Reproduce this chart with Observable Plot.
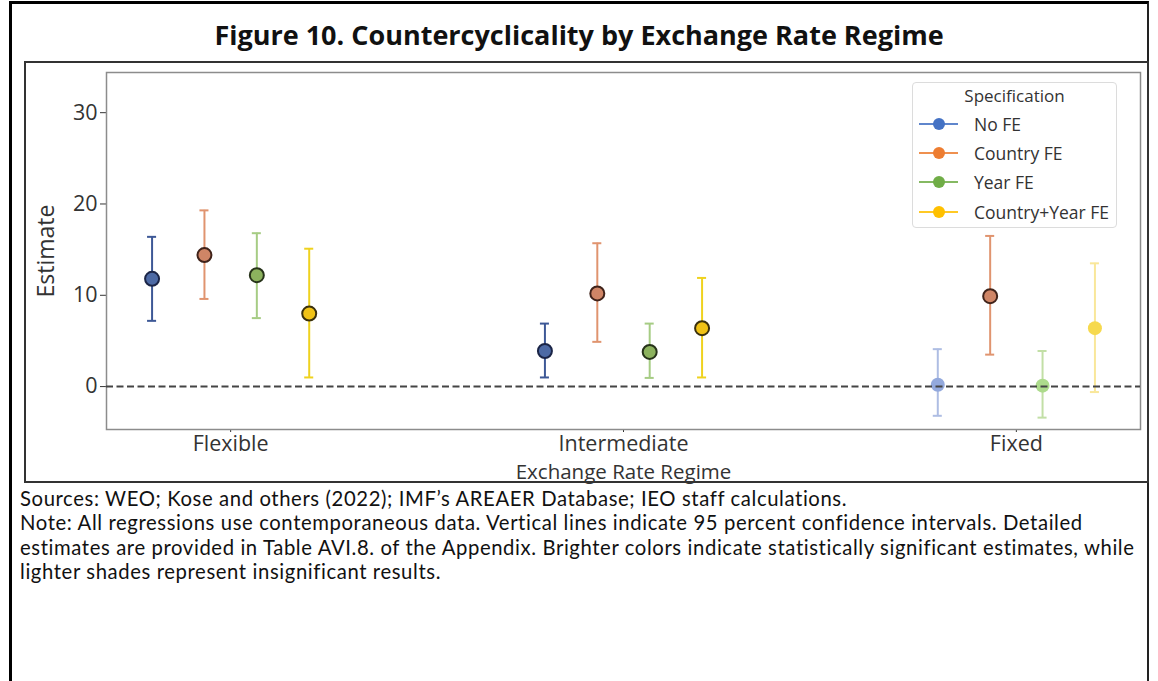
<!DOCTYPE html>
<html>
<head>
<meta charset="utf-8">
<script src="https://cdn.jsdelivr.net/npm/d3@7"></script>
<script src="https://cdn.jsdelivr.net/npm/@observablehq/plot@0.6"></script>
<style>
  body { margin: 0; background: #fff; font-family: "Open Sans", "Noto Sans", sans-serif; }
  #page { position: relative; width: 1158px; height: 681px; overflow: hidden; background: #fff; }
  #outer { position: absolute; left: 9px; top: 1px; width: 1140px; height: 700px;
           border-left: 3px solid #000; border-top: 3px solid #000; border-right: 2px solid #222; box-sizing: border-box; }
  #title { position: absolute; left: 0; width: 1158px; top: 16px; text-align: center;
           font-weight: 700; font-size: 27px; color: #111; line-height: 38px; }
  #box { position: absolute; left: 24px; top: 61px; width: 1125px; height: 422px;
         border: 2px solid #333; box-sizing: border-box; }
  #chart { position: absolute; left: 0; top: 61px; }
  #legend { position: absolute; left: 912px; top: 82px; width: 205px; height: 146px;
            border: 1px solid #dcdcdc; border-radius: 4px; background: rgba(255,255,255,0.85);
            box-sizing: border-box; font-size: 17.5px; color: #333; }
  #legend .ttl { position: absolute; left: 0; width: 100%; top: 0px; text-align: center; line-height: 26px; font-size: 17px; }
  #legend .row { position: absolute; left: 5px; height: 24px; line-height: 24px; }
  #legend .row svg { position: absolute; left: 0; top: 0; }
  #legend .row span { position: absolute; left: 56px; white-space: nowrap; }
  #caption { position: absolute; left: 20px; top: 485.5px; width: 1126px; font-family: Lato, "Open Sans", sans-serif;
             font-size: 20.3px; letter-spacing: 0.6px; color: #111; line-height: 24.5px; }
  #caption div { white-space: nowrap; }
</style>
</head>
<body>
<div id="page">
  <div id="outer"></div>
  <div id="title">Figure 10. Countercyclicality by Exchange Rate Regime</div>
  <div id="box"></div>
  <div id="chart"></div>
  <div id="legend"></div>
  <div id="caption">
    <div>Sources: WEO; Kose and others (2022); IMF’s AREAER Database; IEO staff calculations.</div>
    <div>Note: All regressions use contemporaneous data. Vertical lines indicate 95 percent confidence intervals. Detailed</div>
    <div>estimates are provided in Table AVI.8. of the Appendix. Brighter colors indicate statistically significant estimates, while</div>
    <div>lighter shades represent insignificant results.</div>
  </div>
</div>
<script>
// Regimes along the x axis and the four regression specifications
const regimes = ["Flexible", "Intermediate", "Fixed"];
const specs = ["No FE", "Country FE", "Year FE", "Country+Year FE"];

// Point estimates and 95% confidence bounds, one entry per regime
const noFE       = [11.8, 3.9, 0.2];
const noFELo     = [7.2, 1.0, -3.2];
const noFEHi     = [16.4, 6.9, 4.1];
const noFESig    = [true, true, false];

const countryFE    = [14.4, 10.2, 9.9];
const countryFELo  = [9.6, 4.9, 3.5];
const countryFEHi  = [19.3, 15.7, 16.5];
const countryFESig = [true, true, true];

const yearFE     = [12.2, 3.8, 0.1];
const yearFELo   = [7.5, 0.95, -3.4];
const yearFEHi   = [16.8, 6.9, 3.9];
const yearFESig  = [true, true, false];

const bothFE     = [8.0, 6.4, 6.4];
const bothFELo   = [1.0, 1.0, -0.6];
const bothFEHi   = [15.1, 11.9, 13.5];
const bothFESig  = [true, true, false];

const yTicks = [0, 10, 20, 30];

// Colour styles per specification
const legendColors = ["#4472c4", "#ed7d31", "#70ad47", "#ffc000"];
const sigLine   = ["#3d5896", "#e0946f", "#a6cc84", "#efd21e"];
const sigFill   = ["#4d6aa5", "#cf8566", "#8cb25e", "#f0c216"];
const sigEdge   = ["#1b2547", "#40231a", "#27331a", "#3a300c"];
const insLine   = ["#aebde3", "#f4c2a6", "#c2dfa6", "#f9e79a"];
const insFill   = ["#93a9dd", "#f0ad88", "#addb8c", "#f6d94e"];

const series = [
  {est: noFE, lo: noFELo, hi: noFEHi, sig: noFESig},
  {est: countryFE, lo: countryFELo, hi: countryFEHi, sig: countryFESig},
  {est: yearFE, lo: yearFELo, hi: yearFEHi, sig: yearFESig},
  {est: bothFE, lo: bothFELo, hi: bothFEHi, sig: bothFESig}
];

// Dodge the four specifications around each regime
const dodge = j => (j - 1.5) * 0.4 / 3;
const cap = 0.0115;

const rows = [];
regimes.forEach((regime, i) => {
  series.forEach((s, j) => {
    rows.push({
      regime, spec: specs[j], j,
      x: i + dodge(j),
      est: s.est[i], lo: s.lo[i], hi: s.hi[i], sig: s.sig[i]
    });
  });
});

const lineColor = d => d.sig ? sigLine[d.j] : insLine[d.j];

const chart = Plot.plot({
  width: 1158,
  height: 440,
  marginLeft: 106,
  marginRight: 18,
  marginTop: 11,
  marginBottom: 72,
  style: {fontFamily: "'Open Sans', 'Noto Sans', sans-serif", fontSize: "21.5px", color: "#333", background: "transparent"},
  x: {domain: [-0.316, 2.316], ticks: [0, 1, 2], tickFormat: i => regimes[i], tickSize: 3, tickPadding: 3, label: null},
  y: {domain: [-4.7, 34.4], ticks: yTicks, tickSize: 6, tickPadding: 3, label: null},
  marks: [
    Plot.frame({stroke: "#8c8c8c", strokeWidth: 1.5}),
    Plot.ruleX(rows, {x: "x", y1: "lo", y2: "hi", stroke: lineColor, strokeWidth: 2}),
    Plot.ruleY(rows, {y: "hi", x1: d => d.x - cap, x2: d => d.x + cap, stroke: lineColor, strokeWidth: 2}),
    Plot.ruleY(rows, {y: "lo", x1: d => d.x - cap, x2: d => d.x + cap, stroke: lineColor, strokeWidth: 2}),
    Plot.dot(rows, {
      x: "x", y: "est", r: 7,
      fill: d => d.sig ? sigFill[d.j] : insFill[d.j],
      stroke: d => d.sig ? sigEdge[d.j] : "none",
      strokeWidth: 2
    }),
    Plot.ruleY([0], {stroke: "#444", strokeWidth: 2, strokeDasharray: "7,3.5"}),
    Plot.text(["Estimate"], {frameAnchor: "left", textAnchor: "middle", dx: -60, rotate: -90, fontSize: 23, fill: "#333"}),
    Plot.text(["Exchange Rate Regime"], {frameAnchor: "bottom", lineAnchor: "top", dy: 35.4, fontSize: 20.5, fill: "#333"})
  ]
});
document.getElementById("chart").appendChild(chart);

// Legend: line-with-marker swatches for each specification
const legend = document.getElementById("legend");
const ttl = document.createElement("div");
ttl.className = "ttl";
ttl.textContent = "Specification";
legend.appendChild(ttl);
specs.forEach((s, j) => {
  const row = document.createElement("div");
  row.className = "row";
  row.style.top = (29 + j * 29.2) + "px";
  row.innerHTML = `<svg width="42" height="24"><line x1="1" x2="40" y1="12" y2="12" stroke="${legendColors[j]}" stroke-width="2" opacity="0.85"/><circle cx="21" cy="12" r="6" fill="${legendColors[j]}"/></svg><span>${s}</span>`;
  legend.appendChild(row);
});
</script>
</body>
</html>
